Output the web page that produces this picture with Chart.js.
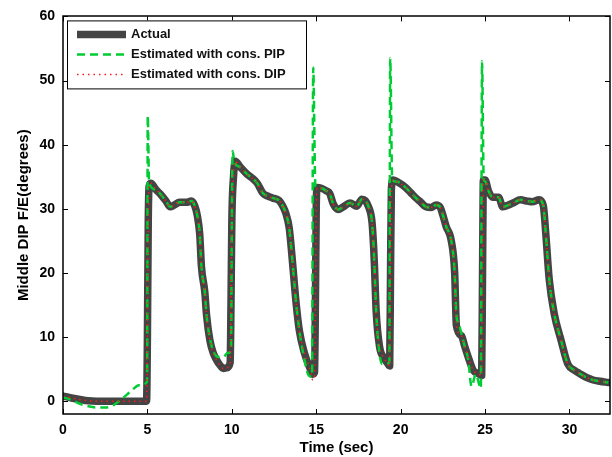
<!DOCTYPE html>
<html>
<head>
<meta charset="utf-8">
<script src="https://cdn.jsdelivr.net/npm/chart.js@4/dist/chart.umd.min.js"></script>
<style>
  html, body { margin: 0; padding: 0; background: #fff; }
  #wrap { width: 612px; height: 457px; }
</style>
</head>
<body>
<div id="wrap"><canvas id="dipChart" width="612" height="457"></canvas></div>
<script>
// Time axis shared by the measured curve and the DIP-based estimate
var timeSec = [
    0, 0.5, 1.0, 1.5, 2.0, 3.0, 4.0, 4.95, 5.0, 5.05,
    5.1, 5.2, 5.5, 5.8, 6.1, 6.35, 6.6, 6.9, 7.3, 7.6,
    7.8, 7.95, 8.1, 8.2, 8.4, 8.5, 8.7, 8.9, 9.1, 9.3,
    9.5, 9.7, 9.9, 9.95, 10.0, 10.1, 10.2, 10.5, 10.9, 11.2,
    11.5, 11.85, 12.1, 12.4, 12.8, 13.0, 13.2, 13.4, 13.6, 13.8,
    14.0, 14.3, 14.6, 14.8, 14.9, 14.95, 15.0, 15.05, 15.3, 15.6,
    15.8, 16.0, 16.3, 16.6, 17.0, 17.4, 17.7, 17.9, 18.1, 18.3,
    18.4, 18.45, 18.55, 18.75, 19.0, 19.2, 19.35, 19.4, 19.45, 19.55,
    19.8, 20.3, 20.6, 20.9, 21.2, 21.5, 21.8, 22.1, 22.35, 22.5,
    22.7, 23.0, 23.2, 23.3, 23.6, 23.8, 24.0, 24.3, 24.6, 24.8,
    24.85, 24.9, 25.0, 25.2, 25.45, 25.8, 26.05, 26.3, 26.65, 27.1,
    27.5, 27.8, 28.2, 28.45, 28.6, 28.8, 29.1, 29.5, 29.9, 30.3,
    30.6, 31.0, 31.4, 31.8, 32.3
];
var actualDeg = [
    0.8, 0.5, 0.25, 0.05, 0, 0, 0, 0, 10, 28,
    33.5, 34.0, 33.0, 32.2, 31.2, 30.3, 30.6, 31.0, 31.0, 31.2,
    30.5, 29.0, 26, 21, 17, 13.5, 9.5, 7.5, 6.4, 5.6,
    5.1, 5.2, 6.0, 15, 28, 35, 37.4, 36.5, 35.4, 34.8,
    34.0, 32.4, 32.0, 31.7, 31.3, 30.5, 29.3, 27, 21.5, 15.5,
    11, 7.5, 5.3, 4.2, 4.5, 15, 30, 33.3, 33.2, 32.8,
    32.4, 30.8, 29.9, 30.3, 30.9, 30.4, 31.5, 31.3, 30.3, 28,
    24, 21, 14, 8.5, 6.8, 6.0, 5.5, 20, 33, 34.5,
    34.2, 33.3, 32.5, 31.7, 31.0, 30.3, 30.2, 30.6, 30.2, 29.0,
    27.2, 25.0, 20, 11.8, 10.2, 8.5, 6.9, 4.8, 4.3, 4.0,
    20, 34.5, 34.5, 32.8, 31.8, 31.8, 30.3, 30.5, 30.9, 31.4,
    31.2, 31.1, 31.4, 30.5, 26, 19, 13.6, 9.5, 5.8, 4.8,
    4.3, 3.7, 3.3, 3.1, 2.9
];
var dipEstDeg = [
    0.8, 0.5, 0.25, 0.05, 0, 0, 0, 0, 10, 28,
    33.5, 34.0, 33.0, 32.2, 31.2, 30.3, 30.6, 31.0, 31.0, 31.2,
    30.5, 29.0, 26, 21, 17, 13.5, 9.5, 7.5, 6.4, 5.6,
    5.1, 5.2, 6.0, 15, 28, 35, 37.4, 36.5, 35.4, 34.8,
    34.0, 32.4, 32.0, 31.7, 31.3, 30.5, 29.3, 27, 21.5, 15.5,
    11, 7.5, 5.3, 3.3, 4.0, 15, 30, 33.3, 33.2, 32.8,
    32.4, 30.8, 29.9, 30.3, 30.9, 30.4, 31.5, 31.3, 30.3, 28,
    24, 21, 14, 8.5, 6.8, 6.0, 5.5, 20, 33, 34.5,
    34.2, 33.3, 32.5, 31.7, 31.0, 30.3, 30.2, 30.6, 30.2, 29.0,
    27.2, 25.0, 20, 11.8, 10.2, 8.5, 6.9, 4.8, 4.3, 4.0,
    20, 34.5, 34.5, 32.8, 31.8, 31.8, 30.3, 30.5, 30.9, 31.4,
    31.2, 31.1, 31.4, 30.5, 26, 19, 13.6, 9.5, 5.8, 4.8,
    4.3, 3.7, 3.3, 3.1, 2.9
];

// PIP-based estimate has its own sampling (overshoot spikes at each onset)
var pipTime = [
    0, 0.5, 1.0, 1.5, 2.0, 2.5, 3.0, 3.5, 4.0, 4.5,
    4.98, 5.02, 5.1, 5.5, 5.8, 6.1, 6.35, 6.6, 6.9, 7.3,
    7.6, 7.8, 7.95, 8.1, 8.2, 8.4, 8.5, 8.7, 8.9, 9.2,
    9.5, 9.75, 9.95, 10.0, 10.05, 10.15, 10.5, 10.9, 11.2, 11.5,
    11.85, 12.1, 12.4, 12.8, 13.0, 13.2, 13.4, 13.6, 13.8, 14.0,
    14.3, 14.55, 14.75, 14.82, 14.95, 15.3, 15.6, 15.8, 16.0, 16.3,
    16.6, 17.0, 17.4, 17.7, 17.9, 18.1, 18.3, 18.4, 18.45, 18.55,
    18.7, 18.9, 19.1, 19.33, 19.38, 19.5, 19.8, 20.3, 20.6, 20.9,
    21.2, 21.5, 21.8, 22.1, 22.35, 22.5, 22.7, 23.0, 23.2, 23.3,
    23.45, 23.65, 23.85, 24.0, 24.2, 24.45, 24.75, 24.82, 24.92, 25.0,
    25.2, 25.45, 25.8, 26.05, 26.3, 26.65, 27.1, 27.5, 27.8, 28.2,
    28.45, 28.6, 28.8, 29.1, 29.5, 29.9, 30.3, 30.6, 31.0, 31.4,
    31.8, 32.3
];
var pipEstDeg = [
    0.6, 0.2, -0.4, -0.8, -1.0, -1.0, -0.6, 0.4, 1.5, 2.5,
    3.0, 44.5, 34.0, 33.0, 32.2, 31.2, 30.3, 30.6, 31.0, 31.0,
    31.2, 30.5, 29.0, 26, 21, 17, 13.5, 9.8, 7.8, 6.9,
    6.9, 7.5, 7.8, 28, 39, 37.2, 36.5, 35.4, 34.8, 34.0,
    32.4, 32.0, 31.7, 31.3, 30.5, 29.3, 27, 21.5, 15.5, 11,
    6.5, 4.0, 3.8, 52, 33.5, 33.2, 32.8, 32.4, 30.8, 29.9,
    30.3, 30.9, 30.4, 31.5, 31.3, 30.3, 28, 24, 21, 14,
    8.5, 5.8, 5.8, 6.0, 53.5, 34.5, 34.2, 33.3, 32.5, 31.7,
    31.0, 30.3, 30.2, 30.6, 30.2, 29.0, 27.2, 25.0, 20, 13.5,
    12.0, 10.0, 8.0, 6.5, 2.3, 4.2, 2.0, 53, 34.5, 34.3,
    32.8, 31.8, 31.8, 30.3, 30.5, 30.9, 31.4, 31.2, 31.1, 31.4,
    30.5, 26, 19, 13.6, 9.5, 5.8, 4.8, 4.3, 3.7, 3.3,
    3.1, 2.9
];

var xTicks = [0, 5, 10, 15, 20, 25, 30];
var yTicks = [0, 10, 20, 30, 40, 50, 60];

function toPoints(xs, ys) {
    return xs.map(function (t, i) { return { x: t, y: ys[i] }; });
}

var FONT = "'Liberation Sans', Arial, Helvetica, sans-serif";

// MATLAB-style box with inward tick marks
var frameTicks = {
    id: 'frameTicks',
    afterDatasetsDraw: function (chart) {
        var ctx = chart.ctx, a = chart.chartArea;
        var xs = chart.scales.x, ys = chart.scales.y;
        ctx.save();
        ctx.strokeStyle = '#000';
        ctx.lineWidth = 1;
        ctx.beginPath();
        xTicks.forEach(function (v) {
            var px = Math.round(xs.getPixelForValue(v)) + 0.5;
            ctx.moveTo(px, a.bottom); ctx.lineTo(px, a.bottom - 5);
            ctx.moveTo(px, a.top); ctx.lineTo(px, a.top + 5);
        });
        yTicks.forEach(function (v) {
            var py = Math.round(ys.getPixelForValue(v)) + 0.5;
            ctx.moveTo(a.left, py); ctx.lineTo(a.left + 5, py);
            ctx.moveTo(a.right, py); ctx.lineTo(a.right - 5, py);
        });
        ctx.stroke();
        ctx.lineWidth = 1.5;
        ctx.strokeRect(Math.round(a.left), Math.round(a.top),
            Math.round(a.right - a.left), Math.round(a.bottom - a.top));
        ctx.restore();
    }
};

// Legend box inside the plot, top-left
var boxLegend = {
    id: 'boxLegend',
    afterDraw: function (chart) {
        var ctx = chart.ctx, a = chart.chartArea;
        var sets = chart.data.datasets;
        var bx = a.left + 4, by = a.top + 4, bw = 239, bh = 68;
        ctx.save();
        ctx.fillStyle = '#fff';
        ctx.fillRect(bx, by, bw, bh);
        ctx.strokeStyle = '#000';
        ctx.lineWidth = 1;
        ctx.strokeRect(bx + 0.5, by + 0.5, bw, bh);
        ctx.font = 'bold 13px ' + FONT;
        ctx.textBaseline = 'middle';
        sets.forEach(function (ds, i) {
            var yy = by + 14 + i * 20;
            ctx.save();
            ctx.strokeStyle = ds.borderColor;
            ctx.lineWidth = ds.borderWidth;
            ctx.setLineDash(ds.borderDash || []);
            ctx.beginPath();
            ctx.moveTo(bx + 10, yy);
            ctx.lineTo(bx + 59, yy);
            ctx.stroke();
            ctx.restore();
            ctx.fillStyle = '#111';
            ctx.fillText(ds.label, bx + 64, yy + 0.5);
        });
        ctx.restore();
    }
};

var ctx = document.getElementById('dipChart').getContext('2d');
var dipChart = new Chart(ctx, {
    type: 'line',
    data: {
        datasets: [{
            label: 'Actual',
            data: toPoints(timeSec, actualDeg),
            borderColor: '#444444',
            borderWidth: 7.5,
            borderJoinStyle: 'round',
            borderCapStyle: 'round',
            cubicInterpolationMode: 'monotone',
            pointRadius: 0,
            order: 3
        }, {
            label: 'Estimated with cons. PIP',
            data: toPoints(pipTime, pipEstDeg),
            borderColor: '#00cc33',
            borderWidth: 2.5,
            borderDash: [8, 5],
            borderJoinStyle: 'round',
            cubicInterpolationMode: 'monotone',
            pointRadius: 0,
            order: 2
        }, {
            label: 'Estimated with cons. DIP',
            data: toPoints(timeSec, dipEstDeg),
            borderColor: '#ff1a1a',
            borderWidth: 1.5,
            borderDash: [1.5, 4],
            borderJoinStyle: 'round',
            cubicInterpolationMode: 'monotone',
            pointRadius: 0,
            order: 1
        }]
    },
    options: {
        responsive: false,
        animation: false,
        layout: { padding: { top: 15, right: 2, left: 0, bottom: 0 } },
        scales: {
            x: {
                type: 'linear',
                min: 0,
                max: 32.4,
                afterFit: function (s) { s.height = 43; },
                grid: { display: false, drawTicks: false },
                border: { display: false },
                ticks: {
                    stepSize: 5,
                    includeBounds: false,
                    autoSkip: false,
                    maxRotation: 0,
                    padding: 8,
                    color: '#000',
                    font: { family: FONT, size: 14, weight: 'bold' }
                },
                title: {
                    display: true,
                    text: 'Time (sec)',
                    color: '#000',
                    padding: { top: 0, bottom: 0 },
                    font: { family: FONT, size: 15, weight: 'bold' }
                }
            },
            y: {
                type: 'linear',
                min: -2,
                max: 60,
                afterFit: function (s) { s.width = 63; },
                grid: { display: false, drawTicks: false },
                border: { display: false },
                ticks: {
                    stepSize: 10,
                    includeBounds: false,
                    padding: 8,
                    color: '#000',
                    font: { family: FONT, size: 14, weight: 'bold' }
                },
                title: {
                    display: true,
                    text: 'Middle DIP F/E(degrees)',
                    color: '#000',
                    padding: { top: 15, bottom: 0 },
                    font: { family: FONT, size: 15, weight: 'bold' }
                }
            }
        },
        plugins: {
            legend: { display: false },
            tooltip: { enabled: false }
        }
    },
    plugins: [frameTicks, boxLegend]
});
</script>
</body>
</html>
